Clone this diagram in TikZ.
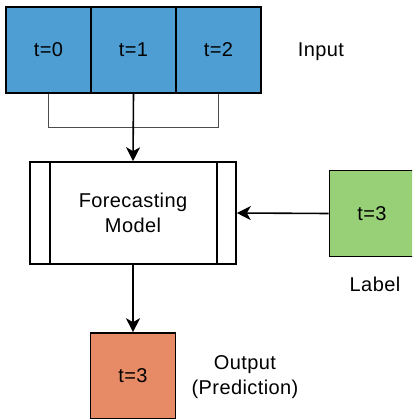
\documentclass[tikz,border=0pt]{standalone}
\usepackage{fontspec}
\setmainfont[LetterSpace=2]{Liberation Sans}
\usetikzlibrary{arrows.meta,calc}
\definecolor{bleu}{HTML}{4E9ED4}
\definecolor{vert}{HTML}{97D077}
\definecolor{orange}{HTML}{E78B66}
\begin{document}
\begin{tikzpicture}[x=1pt,y=-1pt,font=\fontsize{20}{25}\selectfont]
		% définition des styles
		\tikzstyle{pas}=[rectangle,draw,line width=1.6pt,minimum width=85pt,minimum height=86pt,inner sep=0pt,text=black]
		\tikzstyle{modele}=[rectangle,draw,line width=1.6pt,fill=white,minimum width=206pt,minimum height=102pt,align=center]
		\tikzstyle{fleche}=[-{Stealth[length=14pt,width=14pt,inset=4pt]},line width=1.6pt]
		\tikzstyle{texte}=[align=center,inner sep=0pt]
		\clip (0,0) rectangle (412,419);
		% les nœuds
		\node[pas,fill=bleu] (t0) at (48.5,50) {t=0};
		\node[pas,fill=bleu] (t1) at (133.5,50) {t=1};
		\node[pas,fill=bleu] (t2) at (218.5,50) {t=2};
		\node[texte] (entree) at (321,52) {Input};
		\node[modele] (m) at (133,213) {Forecasting\\Model};
		\draw[line width=1.6pt] ($(m.north west)+(21,0)$) -- ($(m.south west)+(21,0)$);
		\draw[line width=1.6pt] ($(m.north east)+(-20,0)$) -- ($(m.south east)+(-20,0)$);
		\node[pas,fill=vert] (l) at (372,213.5) {t=3};
		\node[texte] (label) at (375,284) {Label};
		\node[pas,fill=orange] (s) at (133,376) {t=3};
		\node[texte] (sortie) at (245,377) {Output\\(Prediction)};
		\coordinate (j) at ($(t1.south)+(0,34)$);
		% les flèches
		\draw[line width=1.1pt,black!70] (t0.south) |- (j) -| (t2.south);
		\draw[fleche] (t1.south) -- (m.north);
		\draw[fleche] (l.west) -- (m.east);
		\draw[fleche] (m.south) -- (s.north);
	\end{tikzpicture}
\end{document}
